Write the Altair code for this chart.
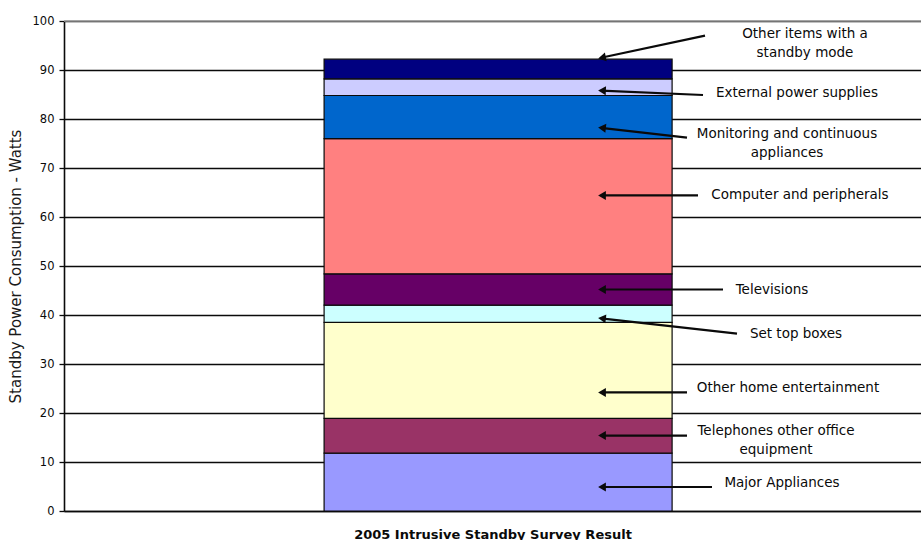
import math
import altair as alt
import pandas as pd

# Standby power by end-use category, stacked bottom to top (watts)
categories = [
    "Major Appliances",
    "Telephones other office equipment",
    "Other home entertainment",
    "Set top boxes",
    "Televisions",
    "Computer and peripherals",
    "Monitoring and continuous appliances",
    "External power supplies",
    "Other items with a standby mode",
]
watts = [11.8, 7.1, 19.6, 3.5, 6.4, 27.6, 8.8, 3.4, 4.0]
colors = ["#9999FF", "#993366", "#FFFFCC", "#CCFFFF", "#660066",
          "#FF8080", "#0066CC", "#CCCCFF", "#000080"]
survey = "2005 Intrusive Standby Survey Result"

# Call-out labels (same order as categories); level of each label's first line
# and of the two ends of its arrow, in watts
callouts = [
    "Major Appliances",
    "Telephones other office\nequipment",
    "Other home entertainment",
    "Set top boxes",
    "Televisions",
    "Computer and peripherals",
    "Monitoring and continuous\nappliances",
    "External power supplies",
    "Other items with a\nstandby mode",
]
label_level = [5.8, 16.3, 25.1, 36.2, 45.2, 64.4, 76.9, 85.3, 97.4]
arrow_from = [4.9, 15.4, 24.2, 36.2, 45.2, 64.4, 76.2, 84.9, 97.0]
arrow_to = [4.9, 15.4, 24.2, 39.3, 45.2, 64.4, 78.2, 85.8, 92.5]
frame_top = [100]

# Layout (pixels inside the plot area)
W, H = 857, 490
label_cx = [718, 712, 724, 732, 708, 736, 723, 733, 741]
arrow_x0 = [648, 623, 623, 673, 659, 634, 623, 639, 641]
tip_x = 534

bars = pd.DataFrame({
    "survey": survey,
    "category": categories,
    "watts": watts,
    "idx": list(range(len(categories))),
})

ppu = H / 100.0
ann = pd.DataFrame({
    "text": callouts,
    "ly": label_level,
    "y0": arrow_from,
    "y1": arrow_to,
    "cx": label_cx,
    "x0": arrow_x0,
})
ann["x1"] = tip_x + 3
ann["hx"] = tip_x + 4
dx = tip_x - ann["x0"]
dy = (ann["y0"] - ann["y1"]) * ppu
ann["ang"] = [(math.degrees(math.atan2(-b, -a)) + 360) % 360 for a, b in zip(dx, dy)]

FONT = "DejaVu Sans"
INK = "#0a0a0a"

y_axis = alt.Axis(
    values=list(range(0, 101, 10)),
    title="Standby Power Consumption - Watts",
    titleFont=FONT, titleFontSize=15, titleFontWeight="normal",
    titleColor="#1a1a1a", titlePadding=9,
    labelFont=FONT, labelFontSize=11.5, labelColor=INK, labelPadding=5,
    tickColor=INK, tickSize=5, tickWidth=1.3,
    domainColor=INK, domainWidth=1.6,
    grid=True, gridWidth=1.5, gridColor=INK,
)

bar = alt.Chart(bars).mark_bar(stroke=INK, strokeWidth=1.2).encode(
    x=alt.X("survey:N",
            scale=alt.Scale(paddingInner=0, paddingOuter=0.7313, align=0.511),
            axis=alt.Axis(labels=False, ticks=False, domain=True, domainColor=INK,
                          domainWidth=1.6, title=survey, titleFont=FONT,
                          titleFontSize=13, titleFontWeight="bold", titleColor=INK,
                          titlePadding=17)),
    y=alt.Y("watts:Q", stack="zero", scale=alt.Scale(domain=[0, 100], nice=False),
            axis=y_axis),
    color=alt.Color("category:N", scale=alt.Scale(domain=categories, range=colors),
                    legend=None),
    order=alt.Order("idx:Q", sort="ascending"),
)

# light frame line along the top of the plot area
top_line = alt.Chart(pd.DataFrame({"top": frame_top})).mark_rule(
    color="#9a9a9a", strokeWidth=1.6
).encode(y=alt.Y("top:Q"))

arrows = alt.Chart(ann).mark_rule(color=INK, strokeWidth=2.2).encode(
    x=alt.X("x0:Q", scale=None),
    x2="x1:Q",
    y=alt.Y("y0:Q"),
    y2="y1:Q",
)

heads = alt.Chart(ann).mark_point(shape="triangle-left", filled=True, size=80,
                                  color=INK, opacity=1).encode(
    x=alt.X("hx:Q", scale=None),
    y=alt.Y("y1:Q"),
    angle=alt.Angle("ang:Q", scale=None),
)

labels = alt.Chart(ann).mark_text(font=FONT, fontSize=13.5, lineBreak="\n",
                                  lineHeight=19, align="center", baseline="middle",
                                  color=INK).encode(
    x=alt.X("cx:Q", scale=None),
    y=alt.Y("ly:Q"),
    text="text:N",
)

chart = alt.layer(top_line, bar, arrows, heads, labels).resolve_scale(
    x="independent"
).properties(
    width=W, height=H,
    autosize=alt.AutoSizeParams(type="none"),
    padding={"left": 64, "top": 21, "right": 0, "bottom": 29},
).configure_view(stroke=None).configure(background="white")

chart.save("out.html", embed_options={"renderer": "svg", "actions": False})
